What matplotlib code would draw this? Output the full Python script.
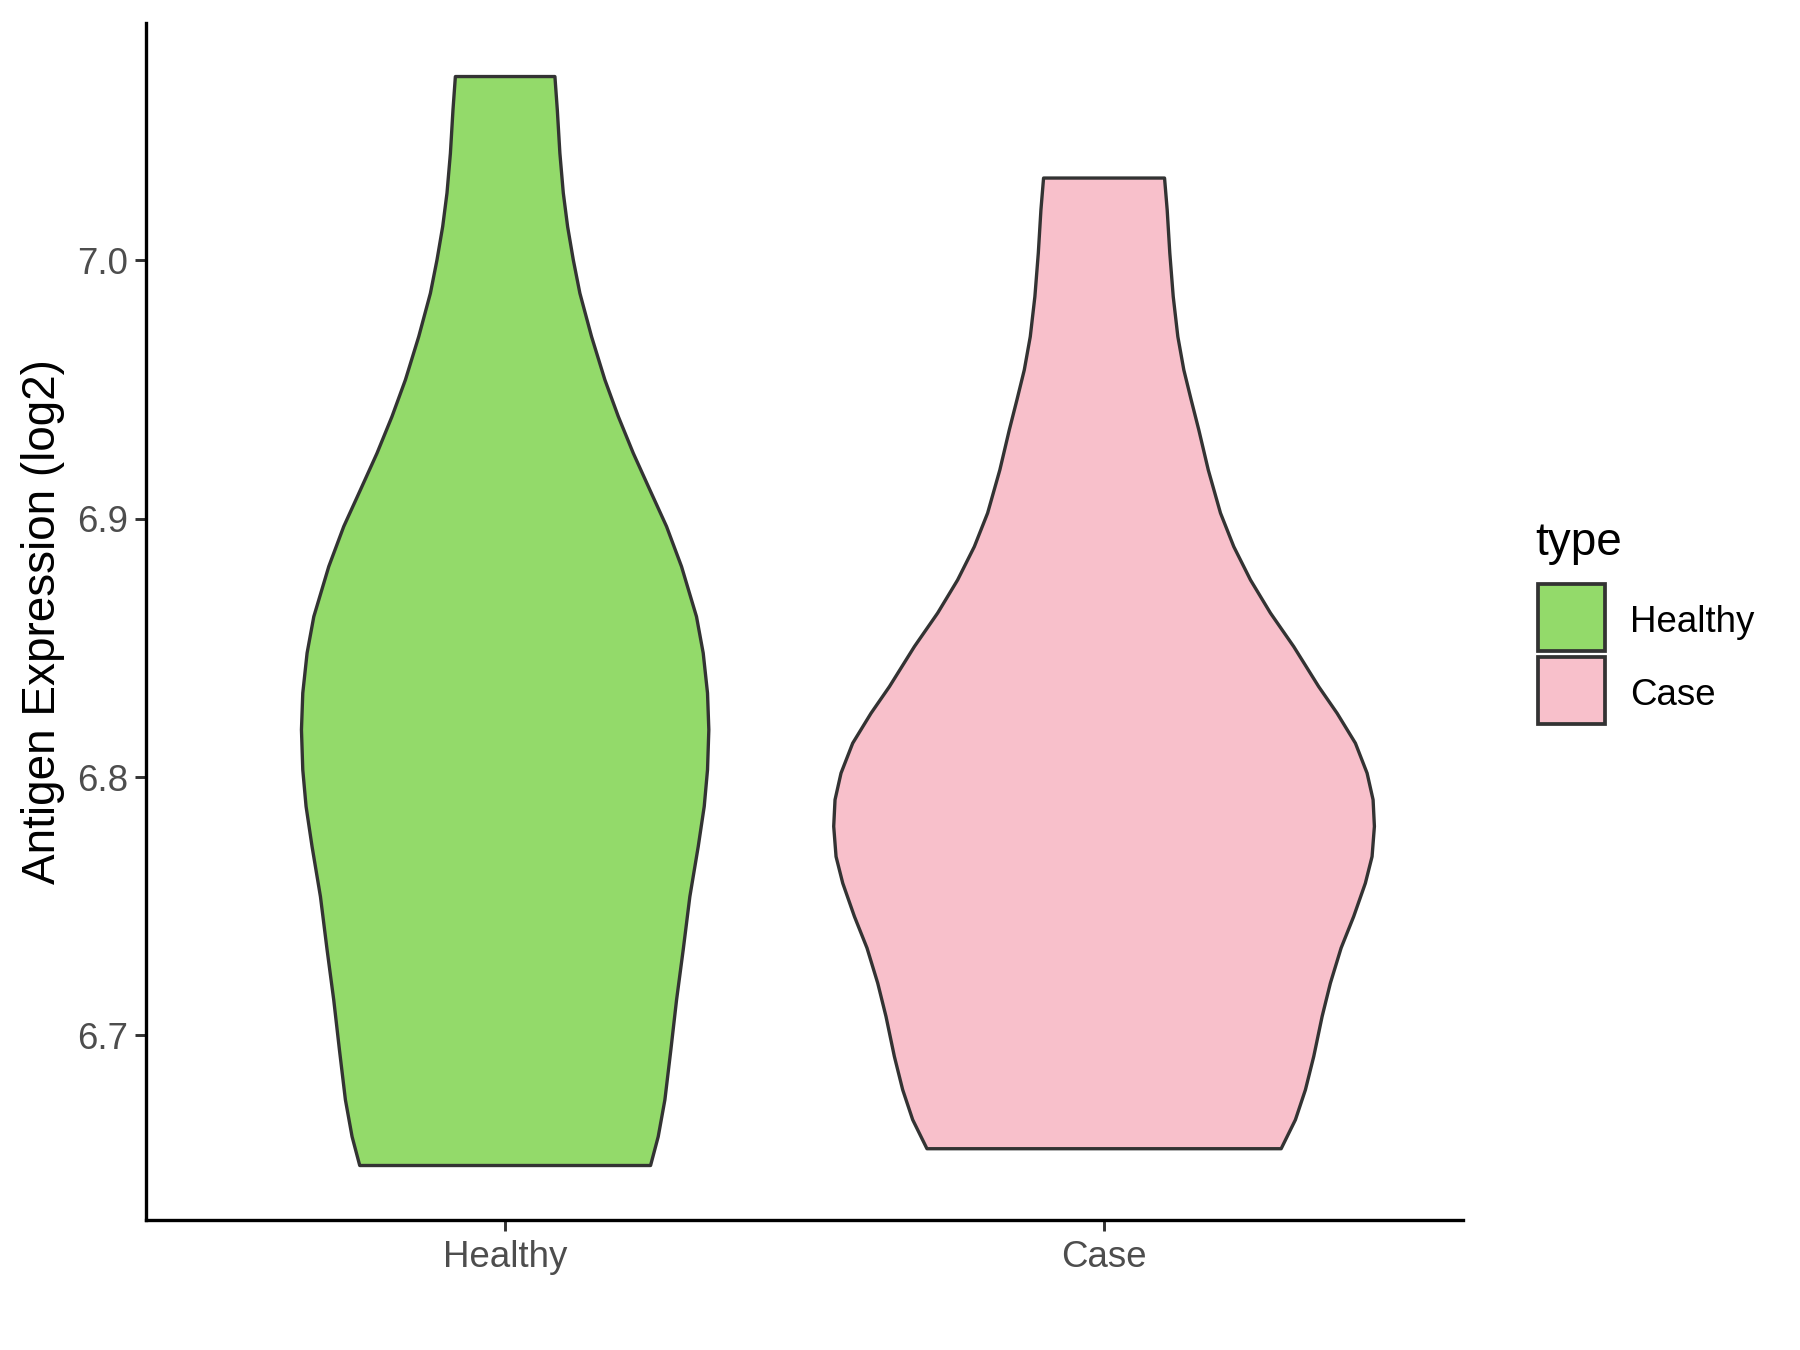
import numpy as np
import matplotlib.pyplot as plt
from matplotlib.patches import Rectangle

plt.rcParams['font.family'] = ['Liberation Sans', 'DejaVu Sans']

categories = ['Healthy', 'Case']
colors = ['#93DA6A', '#F8C0CB']

# violin outlines: expression level and half width (x units)
healthy_y = [7.0712, 7.0583, 7.0415, 7.0261, 7.0131, 7.0002, 6.9873, 6.9705,
             6.9538, 6.9396, 6.9254, 6.9112, 6.8970, 6.8815, 6.8621, 6.8480,
             6.8325, 6.8183, 6.8028, 6.7886, 6.7731, 6.7537, 6.7331, 6.7137,
             6.6944, 6.6750, 6.6608, 6.6496]
healthy_w = [0.0831, 0.0871, 0.0914, 0.0971, 0.1043, 0.1138, 0.1248, 0.1443,
             0.1665, 0.1889, 0.2139, 0.2416, 0.2695, 0.2945, 0.3195, 0.3307,
             0.3379, 0.3401, 0.3379, 0.3324, 0.3224, 0.3084, 0.2973, 0.2862,
             0.2767, 0.2667, 0.2556, 0.2428]

case_y = [7.0319, 7.0196, 7.0028, 6.9860, 6.9705, 6.9576, 6.9460, 6.9344,
          6.9189, 6.9022, 6.8892, 6.8763, 6.8635, 6.8505, 6.8350, 6.8247,
          6.8131, 6.8015, 6.7912, 6.7809, 6.7692, 6.7589, 6.7460, 6.7338,
          6.7202, 6.7073, 6.6918, 6.6789, 6.6673, 6.6561]
case_w = [0.1010, 0.1054, 0.1098, 0.1155, 0.1232, 0.1332, 0.1455, 0.1582,
          0.1740, 0.1944, 0.2166, 0.2445, 0.2778, 0.3167, 0.3584, 0.3891,
          0.4197, 0.4392, 0.4492, 0.4514, 0.4475, 0.4363, 0.4168, 0.3958,
          0.3779, 0.3641, 0.3501, 0.3362, 0.3195, 0.2957]

profiles = [(healthy_y, healthy_w), (case_y, case_w)]
yticks = [6.7, 6.8, 6.9, 7.0]

fig = plt.figure(figsize=(12, 9), dpi=150)
ax = fig.add_axes([0.081, 0.0961, 0.732, 0.887])

for i, (ys, ws) in enumerate(profiles):
    pos = i + 1
    ys = np.array(ys)
    ws = np.array(ws)
    xs = np.concatenate([pos - ws, (pos + ws)[::-1]])
    yy = np.concatenate([ys, ys[::-1]])
    ax.fill(xs, yy, facecolor=colors[i], edgecolor='#333333', linewidth=1.6,
            joinstyle='round')

ax.set_xlim(0.4, 2.6)
ax.set_ylim(6.6284, 7.092)
ax.set_xticks([1, 2])
ax.set_xticklabels(categories)
ax.set_yticks(yticks)
ax.set_yticklabels([f'{v:.1f}' for v in yticks])
ax.tick_params(labelsize=17.6, labelcolor='#4D4D4D', color='#333333',
               width=1.4, length=5.5, pad=3)
ax.tick_params(axis='x', pad=4)
for s in ['top', 'right']:
    ax.spines[s].set_visible(False)
for s in ['left', 'bottom']:
    ax.spines[s].set_linewidth(1.6)
    ax.spines[s].set_color('black')
ax.set_ylabel('Antigen Expression (log2)', fontsize=22, labelpad=5.7)

# legend drawn by hand
fig.text(0.853, 0.589, 'type', fontsize=22, ha='left', va='baseline')
key_top = [1 - 584 / 1350, 1 - 657 / 1350]
for i, lab in enumerate(categories):
    y0 = key_top[i] - 67 / 1350
    fig.add_artist(Rectangle((1538 / 1800, y0), 67 / 1800, 67 / 1350,
                             transform=fig.transFigure, facecolor=colors[i],
                             edgecolor='#333333', linewidth=1.8))
    fig.text(1630 / 1800, y0 + 28.5 / 1350, lab, fontsize=17.6,
             ha='left', va='center')

fig.savefig('out.png', dpi=150)
